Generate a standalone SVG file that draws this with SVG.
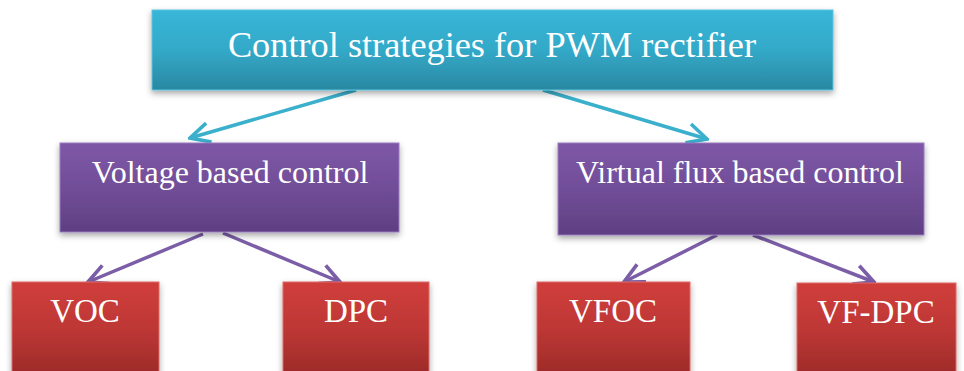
<svg xmlns="http://www.w3.org/2000/svg" width="964" height="371" viewBox="0 0 964 371">
<defs>
<linearGradient id="gTop" x1="0" y1="0" x2="0" y2="1"><stop offset="0" stop-color="#38b6d8"/><stop offset="0.5" stop-color="#33a9c8"/><stop offset="1" stop-color="#2a88a2"/></linearGradient>
<linearGradient id="gMid" x1="0" y1="0" x2="0" y2="1"><stop offset="0" stop-color="#7e57a7"/><stop offset="0.5" stop-color="#714e98"/><stop offset="1" stop-color="#5f3f82"/></linearGradient>
<linearGradient id="gBot" x1="0" y1="0" x2="0" y2="1"><stop offset="0" stop-color="#d03e3b"/><stop offset="0.5" stop-color="#bd3735"/><stop offset="1" stop-color="#9b2a28"/></linearGradient>
<filter id="sh" x="-10%" y="-10%" width="120%" height="130%"><feDropShadow dx="0" dy="3" stdDeviation="3" flood-color="#000" flood-opacity="0.35"/></filter>
<marker id="aC" viewBox="0 0 20 20" refX="18" refY="10" markerWidth="7" markerHeight="7" markerUnits="strokeWidth" orient="auto"><path d="M2,2 L18,10 L2,18" fill="none" stroke="#3ab0cc" stroke-width="3"/></marker>
<marker id="aP" viewBox="0 0 20 20" refX="18" refY="10" markerWidth="7" markerHeight="7" markerUnits="strokeWidth" orient="auto"><path d="M2,2 L18,10 L2,18" fill="none" stroke="#7b5ea7" stroke-width="3"/></marker>
</defs>
<style>
text{font-family:"Liberation Serif","Times New Roman",serif;fill:#fff;text-anchor:middle}
.top{fill:url(#gTop);stroke:#5cc3de;stroke-width:1}
.mid{fill:url(#gMid);stroke:#9a7bbf;stroke-width:1}
.bot{fill:url(#gBot);stroke:#dc6b68;stroke-width:1}
.cc{stroke:#3ab0cc;stroke-width:3.5;fill:none;marker-end:url(#aC)}
.cp{stroke:#7b5ea7;stroke-width:3.5;fill:none;marker-end:url(#aP)}
</style>
<rect width="964" height="371" fill="#fff"/>
<g id="connectors">
<line class="cc" x1="356" y1="90" x2="190" y2="138"/>
<line class="cc" x1="543" y1="90" x2="707" y2="139"/>
<line class="cp" x1="203" y1="234" x2="88" y2="282"/>
<line class="cp" x1="223" y1="233" x2="340" y2="282"/>
<line class="cp" x1="717" y1="235" x2="624" y2="282"/>
<line class="cp" x1="753" y1="235" x2="874" y2="282"/>
</g>
<g id="n-root"><rect class="top" x="152" y="10" width="681" height="80" filter="url(#sh)"/><text x="492" y="57" font-size="36.3">Control strategies for PWM rectifier</text></g>
<g id="n-voltage"><rect class="mid" x="60" y="143" width="339" height="89" filter="url(#sh)"/><text x="230" y="183" font-size="32">Voltage based control</text></g>
<g id="n-vflux"><rect class="mid" x="558" y="143" width="366" height="92" filter="url(#sh)"/><text x="740" y="183" font-size="32">Virtual flux based control</text></g>
<g id="n-voc"><rect class="bot" x="12" y="282" width="147" height="95" filter="url(#sh)"/><text x="85" y="322" font-size="33">VOC</text></g>
<g id="n-dpc"><rect class="bot" x="283" y="282" width="146" height="95" filter="url(#sh)"/><text x="356" y="322" font-size="33">DPC</text></g>
<g id="n-vfoc"><rect class="bot" x="537" y="282" width="153" height="95" filter="url(#sh)"/><text x="613" y="322" font-size="33">VFOC</text></g>
<g id="n-vfdpc"><rect class="bot" x="797" y="283" width="159" height="95" filter="url(#sh)"/><text x="876" y="323" font-size="33">VF-DPC</text></g>
</svg>
